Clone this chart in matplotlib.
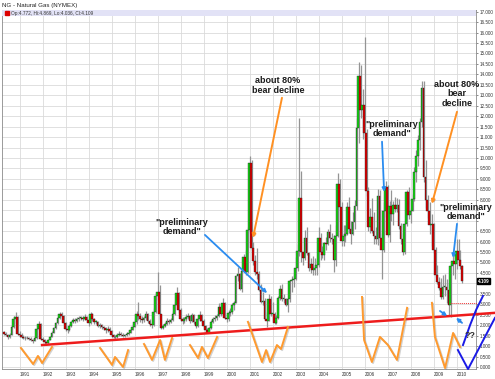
import numpy as np
import matplotlib
matplotlib.use("Agg")
import matplotlib.pyplot as plt
import matplotlib.patheffects as pe
import matplotlib.transforms as mtransforms
from matplotlib.patches import Rectangle

plt.rcParams['font.family'] = ['Liberation Sans', 'DejaVu Sans']

# monthly NG bars, Apr 1990 .. Mar 2010 (open = previous close)
start_year, start_month = 1990, 4
first_open = 1.68

closes = [
    1.60, 1.55, 1.42, 1.55, 1.90, 2.30, 2.40, 1.60, 1.55,                # 1990
    1.45, 1.40, 1.38, 1.40, 1.36, 1.30, 1.24, 1.38, 1.80, 2.08, 1.32, 1.30,  # 1991
    1.20, 1.15, 1.30, 1.45, 1.65, 1.85, 2.10, 2.35, 2.55, 2.45, 2.10, 1.80,  # 1992
    1.75, 1.95, 2.15, 2.25, 2.20, 2.30, 2.35, 2.35, 2.30, 2.40, 2.25, 2.10,  # 1993
    2.55, 2.30, 2.15, 2.15, 1.95, 2.00, 1.90, 1.85, 1.75, 1.80, 1.70, 1.55,  # 1994
    1.45, 1.42, 1.55, 1.60, 1.55, 1.50, 1.52, 1.60, 1.65, 1.78, 1.92, 2.15,  # 1995
    2.55, 2.45, 2.30, 2.25, 2.35, 2.55, 2.20, 2.05, 2.00, 2.65, 3.40, 3.60,  # 1996
    2.55, 1.85, 1.95, 2.05, 2.20, 2.15, 2.25, 2.55, 2.95, 3.55, 2.75, 2.30,  # 1997
    2.20, 2.30, 2.40, 2.45, 2.20, 2.50, 2.15, 1.95, 2.30, 2.50, 2.20, 1.95,  # 1998
    1.78, 1.65, 1.85, 2.15, 2.30, 2.35, 2.45, 2.85, 2.55, 3.05, 2.35, 2.30,  # 1999
    2.60, 2.65, 2.95, 3.05, 4.35, 4.45, 3.75, 4.60, 5.25, 4.55, 6.55, 9.78,  # 2000
    5.70, 5.05, 4.55, 4.45, 3.70, 3.10, 3.15, 2.30, 2.20, 3.25, 2.55, 2.55,  # 2001
    2.10, 2.35, 3.30, 3.75, 3.25, 3.25, 2.95, 3.25, 4.10, 4.15, 4.20, 4.75,  # 2002
    5.55, 8.10, 5.50, 5.20, 6.15, 5.45, 4.75, 4.95, 4.65, 4.75, 4.90, 6.15,  # 2003
    5.50, 5.35, 5.95, 5.90, 6.45, 6.15, 6.10, 5.10, 6.25, 8.75, 7.65, 6.05,  # 2004
    6.25, 6.35, 7.65, 6.60, 6.35, 6.95, 7.70, 11.45, 13.90, 12.30, 12.55, 11.20,  # 2005
    8.40, 6.70, 7.20, 6.50, 6.25, 6.10, 8.20, 6.15, 5.60, 7.45, 8.60, 6.30,  # 2006
    7.70, 7.30, 7.75, 7.55, 7.75, 6.75, 6.10, 5.50, 6.85, 8.35, 7.25, 7.45,  # 2007
    8.05, 9.35, 10.10, 10.85, 11.70, 13.35, 9.10, 8.00, 7.45, 6.80, 6.85, 5.62,  # 2008
    4.42, 4.06, 3.78, 3.37, 3.84, 3.84, 3.66, 2.98, 4.84, 5.05, 4.91, 5.57,  # 2009
    5.13, 4.82, 4.109,                                                   # 2010
]
highs = [
    1.72, 1.66, 1.58, 1.62, 1.98, 2.42, 2.63, 2.45, 1.72,
    1.62, 1.52, 1.48, 1.48, 1.45, 1.42, 1.36, 1.45, 1.85, 2.20, 2.10, 1.42,
    1.35, 1.25, 1.35, 1.50, 1.70, 1.90, 2.15, 2.40, 2.63, 2.65, 2.50, 2.15,
    1.95, 2.05, 2.20, 2.35, 2.35, 2.40, 2.45, 2.45, 2.45, 2.55, 2.45, 2.30,
    2.65, 2.60, 2.35, 2.25, 2.20, 2.10, 2.05, 1.95, 1.90, 1.95, 1.90, 1.75,
    1.60, 1.52, 1.62, 1.70, 1.68, 1.62, 1.60, 1.68, 1.75, 1.85, 2.05, 2.35,
    2.70, 3.10, 2.60, 2.45, 2.45, 2.70, 2.60, 2.30, 2.15, 2.80, 3.55, 4.55,
    3.90, 2.55, 2.05, 2.15, 2.35, 2.30, 2.35, 2.70, 3.10, 3.85, 3.60, 2.80,
    2.40, 2.40, 2.55, 2.60, 2.50, 2.60, 2.55, 2.20, 2.40, 2.70, 2.55, 2.30,
    2.00, 1.85, 1.90, 2.25, 2.40, 2.50, 2.55, 3.05, 3.00, 3.30, 3.10, 2.50,
    2.75, 2.80, 3.05, 3.15, 4.40, 4.80, 4.50, 4.70, 5.40, 5.60, 6.70, 10.10,
    9.90, 6.00, 5.35, 5.70, 4.60, 3.95, 3.60, 3.30, 2.65, 3.50, 3.40, 3.10,
    2.65, 2.50, 3.40, 3.90, 3.95, 3.50, 3.30, 3.30, 4.15, 4.35, 4.40, 5.25,
    5.90, 11.90, 9.40, 5.50, 6.55, 6.70, 5.50, 5.20, 5.30, 5.20, 5.10, 6.70,
    6.40, 5.80, 6.00, 6.20, 6.60, 6.85, 6.40, 6.30, 6.80, 9.30, 9.00, 7.90,
    6.80, 6.80, 7.90, 8.15, 7.00, 7.40, 8.00, 11.90, 14.60, 14.45, 13.30, 15.78,
    11.40, 8.60, 7.60, 8.10, 7.40, 6.70, 8.50, 8.45, 6.40, 7.90, 8.90, 8.70,
    7.95, 8.45, 7.95, 8.15, 8.10, 8.05, 6.90, 6.40, 6.95, 8.45, 8.60, 7.60,
    8.30, 9.55, 10.40, 11.10, 11.90, 13.70, 13.70, 9.90, 8.25, 7.90, 7.30, 6.90,
    5.75, 4.90, 4.30, 4.25, 4.40, 4.45, 4.20, 4.00, 4.95, 5.30, 5.40, 6.10,
    6.11, 5.60, 4.869,
]
lows = [
    1.55, 1.48, 1.36, 1.40, 1.52, 1.85, 2.12, 1.55, 1.45,
    1.38, 1.35, 1.30, 1.33, 1.30, 1.22, 1.16, 1.22, 1.35, 1.75, 1.28, 1.22,
    1.10, 1.05, 1.12, 1.28, 1.42, 1.62, 1.82, 2.05, 2.30, 2.35, 2.05, 1.72,
    1.65, 1.72, 1.92, 2.10, 2.10, 2.15, 2.22, 2.25, 2.20, 2.25, 2.15, 1.98,
    2.05, 2.20, 2.05, 2.05, 1.90, 1.88, 1.80, 1.75, 1.62, 1.68, 1.60, 1.45,
    1.38, 1.35, 1.40, 1.50, 1.48, 1.42, 1.45, 1.48, 1.55, 1.62, 1.75, 1.90,
    2.05, 2.25, 2.15, 2.10, 2.15, 2.25, 2.10, 1.95, 1.85, 1.95, 2.60, 3.20,
    2.30, 1.80, 1.80, 1.90, 2.00, 2.05, 2.10, 2.20, 2.50, 2.90, 2.60, 2.20,
    2.05, 2.10, 2.20, 2.30, 2.10, 2.15, 2.05, 1.85, 1.90, 2.20, 2.10, 1.85,
    1.70, 1.62, 1.65, 1.80, 2.10, 2.20, 2.25, 2.40, 2.45, 2.50, 2.30, 2.15,
    2.20, 2.45, 2.55, 2.75, 3.05, 4.10, 3.70, 3.60, 4.55, 4.40, 4.50, 6.40,
    5.60, 4.90, 4.40, 4.20, 3.65, 3.05, 2.95, 2.25, 1.90, 2.25, 2.45, 2.20,
    2.05, 2.05, 2.30, 3.20, 3.15, 3.05, 2.90, 2.65, 3.10, 3.60, 3.85, 4.15,
    4.60, 5.30, 5.00, 4.90, 5.10, 5.35, 4.60, 4.50, 4.40, 4.40, 4.40, 4.80,
    5.10, 5.20, 5.10, 5.60, 5.85, 6.00, 5.90, 4.55, 4.85, 6.20, 7.05, 5.80,
    5.80, 6.00, 6.30, 6.40, 5.90, 6.30, 6.60, 7.50, 10.70, 11.90, 10.90, 11.00,
    8.20, 6.50, 6.40, 6.40, 5.90, 5.90, 5.85, 6.00, 4.20, 5.50, 7.20, 6.20,
    6.00, 7.00, 6.80, 7.40, 7.40, 6.60, 5.90, 5.35, 5.40, 6.75, 7.10, 6.90,
    7.45, 7.95, 8.85, 9.60, 10.40, 11.50, 8.85, 7.60, 7.15, 6.35, 5.80, 5.45,
    4.30, 3.95, 3.70, 3.25, 3.25, 3.40, 3.05, 2.50, 2.41, 4.40, 4.20, 4.70,
    5.05, 4.70, 4.036,
]

years = list(range(1991, 2011))
price_ticks = np.arange(0, 17.01, 0.5)
hidden_ticks = [4.0, 7.0, 7.5]   # covered by the price tag / the right-hand note
last_price = 4.109
legend_text = "Op:4.772, Hi:4.869, Lo:4.036, Cl:4.109"

# annotation texts / arrows (year, price)
notes = [
    ("about 80%\nbear decline", (2002.22, 13.46)),
    ('"preliminary\ndemand"', (1998.04, 6.70)),
    ('"preliminary\ndemand"', (2007.17, 11.40)),
    ("about 80%\nbear\ndecline", (2010.00, 13.07)),
    ('"preliminary\ndemand"', (2010.39, 7.42)),
]
orange_arrows = [((2002.39, 12.88), (2001.13, 6.18)),
                 ((2010.00, 12.21), (2008.91, 7.81))]
blue_arrows = [((1999.04, 6.32), (2001.74, 3.54)),
               ((2006.74, 10.78), (2006.83, 8.38)),
               ((2010.00, 6.85), (2009.83, 5.22)),
               ((2009.26, 2.68), (2009.57, 2.44)),
               ((2010.22, 2.11), (2009.96, 2.35))]
trend_line = ([1991.96, 2011.65], [1.05, 2.59])
w_shapes = [
    ([1991.04, 1991.57, 1991.78, 1991.96, 1992.39], [0.91, 0.14, 0.53, 0.19, 0.96]),
    ([1994.48, 1995.00, 1995.13, 1995.48, 1995.70], [0.91, 0.10, 0.48, 0.00, 0.81]),
    ([1996.39, 1996.74, 1997.09, 1997.30, 1997.61], [1.10, 0.34, 1.29, 0.34, 1.39]),
    ([1998.39, 1998.74, 1998.91, 1999.17, 1999.57], [1.05, 0.43, 0.96, 0.43, 1.44]),
    ([2000.91, 2001.52, 2001.70, 2001.87, 2002.17, 2002.35, 2002.65],
     [2.16, 0.24, 0.81, 0.24, 1.05, 0.86, 1.92]),
    ([2005.87, 2005.96, 2006.30, 2006.65, 2007.00, 2007.39, 2007.83],
     [3.35, 1.29, 0.24, 1.44, 1.05, 0.34, 2.83]),
    ([2008.91, 2009.04, 2009.48, 2009.83, 2010.13], [3.07, 1.44, -0.05, 1.63, 0.96]),
]
blue_sketch = [
    ([2010.26, 2010.57, 2010.83, 2011.13], [1.05, 2.01, 2.73, 3.40]),
    ([2010.04, 2010.48, 2011.65], [0.81, -0.10, 2.35]),
]

# --- build bars
n = len(closes)
month_idx = np.arange(n) + (start_month - 1)
t = start_year + month_idx / 12.0 + 1 / 24.0
c = np.array(closes)
o = np.concatenate([[first_open], c[:-1]])
h = np.array(highs)
l = np.array(lows)
top = np.maximum(o, c)
bot = np.minimum(o, c)
up = c >= o

fig = plt.figure(figsize=(4.95, 3.79), dpi=100)
ax = fig.add_axes([2 / 495, 1 - 369 / 379, 474 / 495, 359 / 379])
ax.set_xlim(1990.217, 2010.826)
ax.set_ylim(-0.096, 17.08)

ax.grid(True, color='#dadada', lw=0.6)
ax.set_axisbelow(True)

ax.vlines(t + 0.025, np.minimum(l, bot), np.maximum(h, top), color='#949494', lw=0.9, zorder=2)
colors = np.where(up, '#16dc16', '#e00000')
ax.bar(t, np.maximum(top - bot, 0.03), bottom=bot, width=0.072, color=colors,
       edgecolor='#1a1a1a', linewidth=0.25, zorder=3)

# right price axis
ax.yaxis.tick_right()
ax.set_yticks(price_ticks)
ax.set_yticklabels(["" if any(abs(v - hv) < 1e-9 for hv in hidden_ticks) else f"{v:.3f}"
                    for v in price_ticks])
ax.set_xticks(years)
ax.set_xticklabels([str(y) for y in years])
ax.tick_params(axis='y', labelsize=3.3, length=1.5, width=0.4, pad=1, colors='#333333')
ax.tick_params(axis='x', labelsize=3.3, length=0, pad=2, colors='#333333')
shift = mtransforms.ScaledTranslation(0.045, 0, fig.dpi_scale_trans)
for lab in ax.get_xticklabels():
    lab.set_transform(lab.get_transform() + shift)
for s in ax.spines.values():
    s.set_color('#8a8a8a')
    s.set_linewidth(0.6)

# header strip
ax.add_patch(Rectangle((0, 0.983), 1, 0.017, transform=ax.transAxes,
                       facecolor='#e2e2f6', edgecolor='none', zorder=4))
ax.plot([0.011], [0.9915], 's', color='#dd0000', ms=2.2, transform=ax.transAxes,
        zorder=5, clip_on=False)
ax.text(0.02, 0.9915, legend_text, transform=ax.transAxes, fontsize=3.45,
        va='center', ha='left', color='#333333', zorder=5)
fig.text(2 / 495, 1 - 6 / 379, "NG - Natural Gas (NYMEX)", fontsize=4.4,
         va='center', ha='left', color='#222222')

# last price tag
ax.annotate(f"{last_price:.3f}", xy=(1.004, last_price), xycoords=('axes fraction', 'data'),
            fontsize=3.3, color='white', va='center', ha='left', fontweight='bold',
            bbox=dict(boxstyle='square,pad=0.15', fc='black', ec='black'),
            annotation_clip=False, zorder=6)

shadow = [pe.SimpleLineShadow(offset=(0.8, -0.8), shadow_color='gray', alpha=0.35), pe.Normal()]

# red support line and dotted level
ax.plot(trend_line[0], trend_line[1], color='#ee1c1c', lw=1.8, clip_on=False, zorder=5)
ax.plot([2009.7, 2010.87], [3.06, 3.06], color='#ee3333', lw=0.7, ls=(0, (1, 1)),
        clip_on=False, zorder=5)

for xs, ys in w_shapes:
    ax.plot(xs, ys, color='#ff9a2e', lw=1.4, clip_on=False, zorder=5,
            solid_joinstyle='round', path_effects=shadow)
for xs, ys in blue_sketch:
    ax.plot(xs, ys, color='#1a1ae6', lw=1.4, clip_on=False, zorder=5,
            solid_joinstyle='round')

arrow_fx = [pe.SimplePatchShadow(offset=(0.8, -0.8), alpha=0.3), pe.Normal()]
for (x0, y0), (x1, y1) in orange_arrows:
    ax.annotate("", xy=(x1, y1), xytext=(x0, y0), annotation_clip=False, zorder=6,
                arrowprops=dict(arrowstyle='-|>', color='#ff9022', lw=1.4,
                                mutation_scale=5, shrinkA=0, shrinkB=0,
                                path_effects=arrow_fx))
for (x0, y0), (x1, y1) in blue_arrows:
    ax.annotate("", xy=(x1, y1), xytext=(x0, y0), annotation_clip=False, zorder=6,
                arrowprops=dict(arrowstyle='-|>', color='#2a8cf0', lw=1.3,
                                mutation_scale=5, shrinkA=0, shrinkB=0,
                                path_effects=arrow_fx))

for txt, (x, y) in notes:
    ax.text(x, y, txt, fontsize=6.5, fontweight='bold', color='#1c1c1c',
            ha='center', va='center', linespacing=1.05, zorder=7, clip_on=False)
ax.text(2010.58, 1.53, "??", fontsize=6.5, fontweight='bold', color='#333333',
        ha='center', va='center', zorder=7, clip_on=False)

fig.savefig("out.png", dpi=100)
